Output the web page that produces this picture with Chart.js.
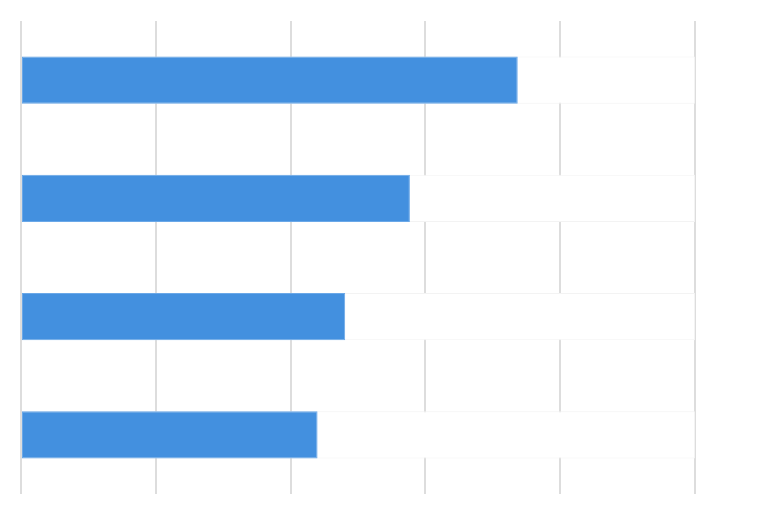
<!DOCTYPE html>
<html>
<head>
<meta charset="utf-8">
<script src="https://cdn.jsdelivr.net/npm/chart.js@4/dist/chart.umd.min.js"></script>
<style>
html,body{margin:0;padding:0;background:#fff;}
#wrap{width:770px;height:515px;position:relative;}
</style>
</head>
<body>
<div id="wrap"><canvas id="c"></canvas></div>
<script>
const categories = ["Item 1", "Item 2", "Item 3", "Item 4"];
const values = [73.7, 57.7, 48.1, 44.0];
const trackValues = [100, 100, 100, 100];
const xTicks = [0, 20, 40, 60, 80, 100];

new Chart(document.getElementById('c'), {
  type: 'bar',
  data: {
    labels: categories,
    datasets: [
      {
        data: values,
        backgroundColor: '#4390df',
        borderColor: '#6aa8e8',
        borderWidth: 1,
        borderSkipped: false,
        grouped: false,
        order: 0,
        barPercentage: 1,
        categoryPercentage: 0.4
      },
      {
        data: trackValues,
        backgroundColor: '#ffffff',
        borderColor: '#f3f3f3',
        borderWidth: 1,
        borderSkipped: false,
        grouped: false,
        order: 1,
        barPercentage: 1,
        categoryPercentage: 0.4
      }
    ]
  },
  options: {
    indexAxis: 'y',
    responsive: true,
    maintainAspectRatio: false,
    animation: false,
    layout: { padding: { left: 21, right: 75, top: 21, bottom: 21 } },
    plugins: { legend: { display: false }, tooltip: { enabled: false } },
    scales: {
      x: {
        min: xTicks[0],
        max: xTicks[xTicks.length - 1],
        afterBuildTicks: (s) => { s.ticks = xTicks.map(v => ({ value: v })); },
        ticks: { display: false },
        grid: { color: '#dddddd', lineWidth: 2, drawTicks: false },
        border: { display: false }
      },
      y: {
        display: false,
        grid: { display: false }
      }
    }
  }
});
</script>
</body>
</html>
